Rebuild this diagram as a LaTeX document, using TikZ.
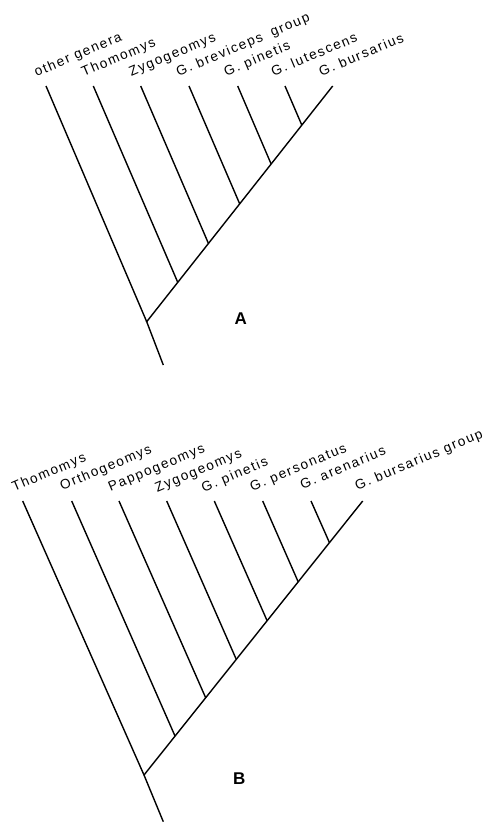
\documentclass[tikz,border=0pt]{standalone}
\usepackage{fontspec}
\setmainfont{Liberation Sans}
\newfontfamily\taxfont[LetterSpace=12]{Liberation Sans}
\usetikzlibrary{calc}

\begin{document}
\begin{tikzpicture}[x=1pt,y=-1pt,line width=1.4pt,
  taxon/.style={anchor=base west,rotate=23,inner sep=0pt,font=\taxfont\fontsize{13.6}{15}\selectfont},
  panel/.style={font=\fontsize{17}{20}\selectfont\bfseries}]
\useasboundingbox (0,0) rectangle (493,825);
% cladogram A
\begin{scope}
\coordinate (rA) at (146.7,321.7); \coordinate (sA) at (163.3,365);
\coordinate (a1) at (46,86); \coordinate (a2) at (93.3,86); \coordinate (a3) at (140.7,86);
\coordinate (a4) at (189,86); \coordinate (a5) at (237.7,86); \coordinate (a6) at (285,86);
\coordinate (a7) at (332.7,86);
\coordinate (jA2) at ($(rA)!.167!(a7)$); \coordinate (jA3) at ($(rA)!.332!(a7)$);
\coordinate (jA4) at ($(rA)!.500!(a7)$); \coordinate (jA5) at ($(rA)!.669!(a7)$);
\coordinate (jA6) at ($(rA)!.834!(a7)$);
\draw (sA) -- (rA) -- (a7); \draw (rA) -- (a1);
\draw (jA2) -- (a2); \draw (jA3) -- (a3); \draw (jA4) -- (a4);
\draw (jA5) -- (a5); \draw (jA6) -- (a6);
\node[taxon] (tA1) at ([shift={(-10,-9)}]a1) {other genera};
\node[taxon] (tA2) at ([shift={(-10,-9)}]a2) {Thomomys};
\node[taxon] (tA3) at ([shift={(-10,-9)}]a3) {Zygogeomys};
\node[taxon] (tA4) at ([shift={(-11,-9)}]a4) {G. breviceps\hspace{4pt} group};
\node[taxon] (tA5) at ([shift={(-12,-9)}]a5) {G. pinetis};
\node[taxon] (tA6) at ([shift={(-12,-9)}]a6) {G. lutescens};
\node[taxon] (tA7) at ([shift={(-12,-9)}]a7) {G. bursarius};
\node[panel] (pA) at (240.7,318.3) {A};
\end{scope}
% cladogram B
\begin{scope}
\coordinate (rB) at (144,775); \coordinate (sB) at (163.3,821.7);
\coordinate (b1) at (22.7,501); \coordinate (b2) at (71.7,501); \coordinate (b3) at (119,501);
\coordinate (b4) at (166.7,501); \coordinate (b5) at (214.3,501); \coordinate (b6) at (262.7,501);
\coordinate (b7) at (311,501); \coordinate (b8) at (362.7,501);
\coordinate (jB2) at ($(rB)!.142!(b8)$); \coordinate (jB3) at ($(rB)!.282!(b8)$);
\coordinate (jB4) at ($(rB)!.422!(b8)$); \coordinate (jB5) at ($(rB)!.563!(b8)$);
\coordinate (jB6) at ($(rB)!.705!(b8)$); \coordinate (jB7) at ($(rB)!.848!(b8)$);
\draw (sB) -- (rB) -- (b8); \draw (rB) -- (b1);
\draw (jB2) -- (b2); \draw (jB3) -- (b3); \draw (jB4) -- (b4);
\draw (jB5) -- (b5); \draw (jB6) -- (b6); \draw (jB7) -- (b7);
\node[taxon] (tB1) at ([shift={(-9,-9)}]b1) {Thomomys};
\node[taxon] (tB2) at ([shift={(-10,-10)}]b2) {Orthogeomys};
\node[taxon] (tB3) at ([shift={(-9,-9)}]b3) {Pappogeomys};
\node[taxon] (tB4) at ([shift={(-10,-8)}]b4) {Zygogeomys};
\node[taxon] (tB5) at ([shift={(-11,-8)}]b5) {G. pinetis};
\node[taxon] (tB6) at ([shift={(-11,-9)}]b6) {G. personatus};
\node[taxon] (tB7) at ([shift={(-9,-11)}]b7) {G. arenarius};
\node[taxon] (tB8) at ([shift={(-6,-10)}]b8) {G. bursarius group};
\node[panel] (pB) at (239.3,778.3) {B};
\end{scope}
\end{tikzpicture}
\end{document}
